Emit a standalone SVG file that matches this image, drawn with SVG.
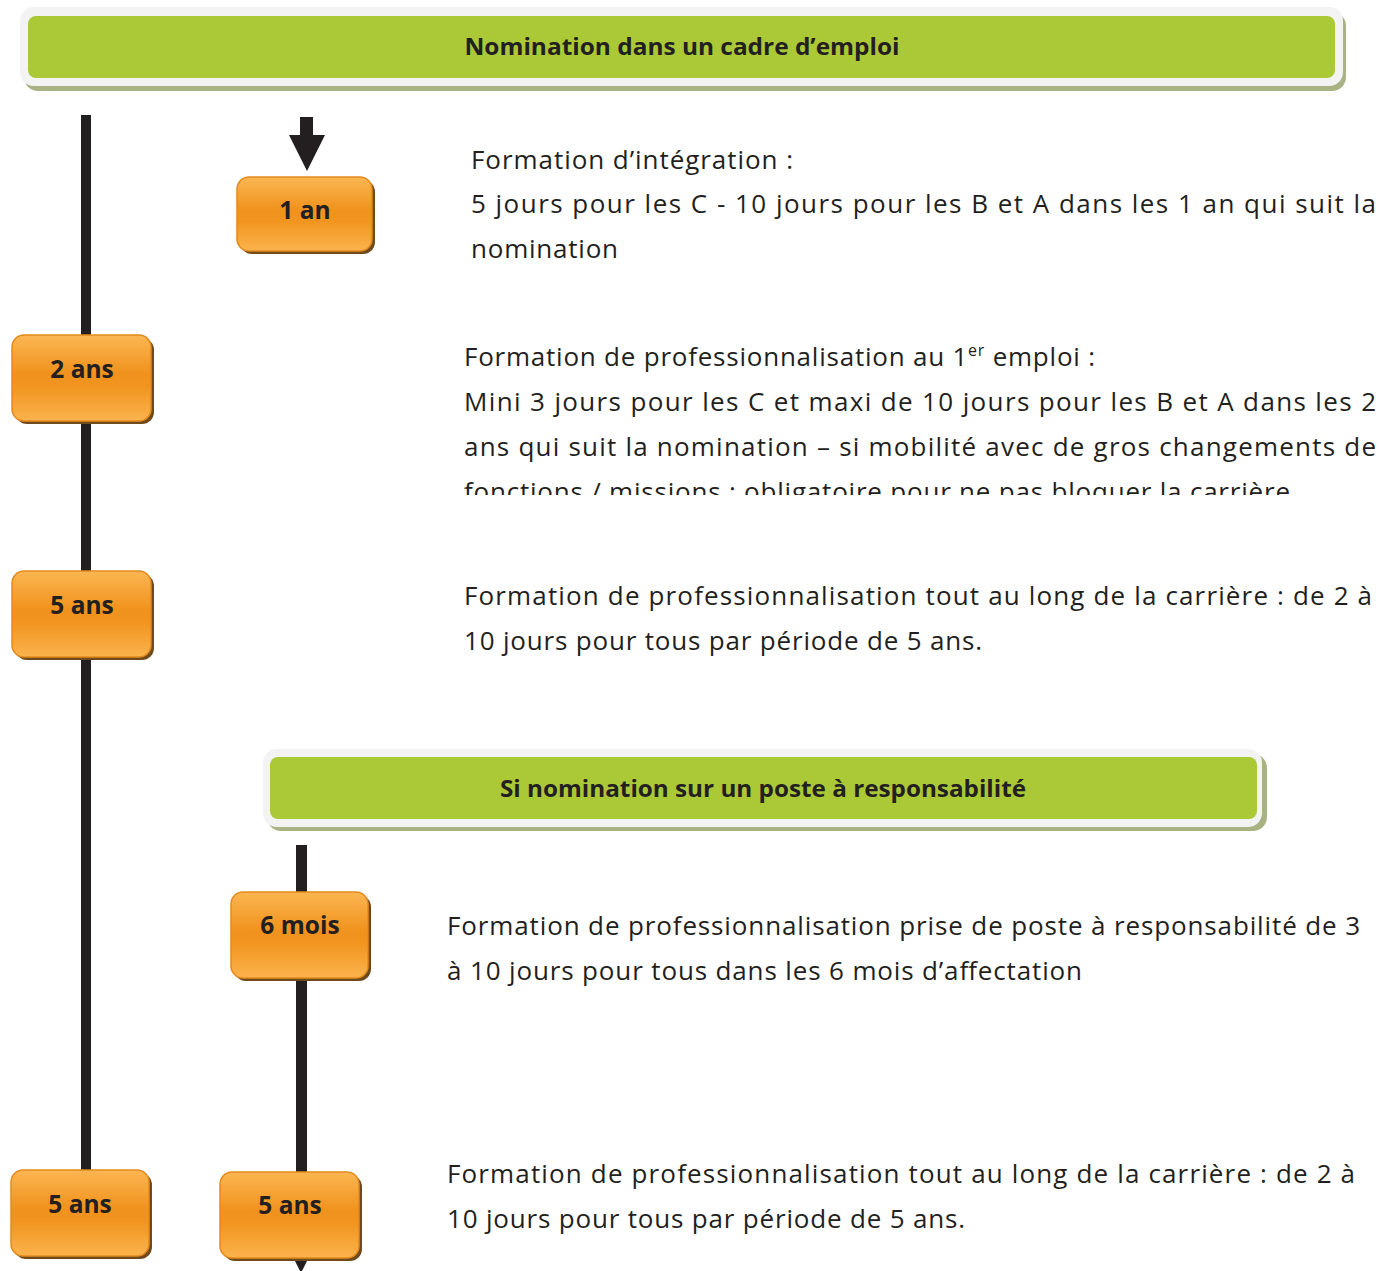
<svg xmlns="http://www.w3.org/2000/svg" width="1381" height="1271" viewBox="0 0 1381 1271">
<defs>
<linearGradient id="og" x1="0" y1="0" x2="0" y2="1">
<stop offset="0" stop-color="#fbb652"/>
<stop offset="0.45" stop-color="#f0921d"/>
<stop offset="0.6" stop-color="#f19520"/>
<stop offset="1" stop-color="#fbb34d"/>
</linearGradient>
<clipPath id="clip2"><rect x="400" y="300" width="981" height="195"/></clipPath>
<style>
.body{font-family:"Open Sans","Noto Sans","Liberation Sans",sans-serif;font-size:26px;fill:#231f20}
.lbl{font-family:"Open Sans","Noto Sans","Liberation Sans",sans-serif;font-size:24.5px;font-weight:700;fill:#231f20;text-anchor:middle}
.ban{font-family:"Open Sans","Noto Sans","Liberation Sans",sans-serif;font-size:23px;font-weight:700;fill:#231f20;text-anchor:middle}
.box{fill:url(#og);stroke:#e48a1c;stroke-width:1.5}
.shd{fill:#6e4a1c}
.bout{fill:#f3f3f3}
.bshd{fill:#a9b283}
.bin{fill:#abc837}
.line{fill:#231f20}
</style>
</defs>

<g id="connectors">
<rect class="line" x="81" y="115" width="10" height="1060"/>
<rect class="line" x="296" y="845" width="11" height="395"/>
<polygon class="line" points="283,1237 319,1237 301,1273"/>
<rect class="line" x="300" y="117" width="13" height="20"/>
<polygon class="line" points="289,135 325,135 307,171"/>
</g>

<g id="banner1">
<rect class="bshd" x="24" y="12" width="1322" height="79" rx="14"/>
<rect class="bout" x="20" y="7" width="1323" height="79" rx="14"/>
<rect class="bin" x="28" y="16" width="1307" height="62" rx="8"/>
<text class="ban" x="682" y="55" textLength="435" lengthAdjust="spacingAndGlyphs">Nomination dans un cadre d’emploi</text>
</g>

<g id="banner2">
<rect class="bshd" x="267" y="754" width="1000" height="77" rx="14"/>
<rect class="bout" x="263" y="749" width="999" height="78" rx="14"/>
<rect class="bin" x="270" y="757" width="987" height="62" rx="8"/>
<text class="ban" x="763" y="797" textLength="526" lengthAdjust="spacingAndGlyphs">Si nomination sur un poste à responsabilité</text>
</g>

<g id="n1an">
<rect class="shd" x="240" y="180" width="135" height="74" rx="12"/>
<rect class="box" x="237" y="177" width="135" height="74" rx="12"/>
<text class="lbl" x="305" y="219">1 an</text>
</g>

<g id="n2ans">
<rect class="shd" x="15" y="338" width="139" height="86" rx="12"/>
<rect class="box" x="12" y="335" width="139" height="86" rx="12"/>
<text class="lbl" x="82" y="378">2 ans</text>
</g>

<g id="n5ans1">
<rect class="shd" x="15" y="574" width="139" height="86" rx="12"/>
<rect class="box" x="12" y="571" width="139" height="86" rx="12"/>
<text class="lbl" x="82" y="614">5 ans</text>
</g>

<g id="n6mois">
<rect class="shd" x="234" y="895" width="137" height="86" rx="12"/>
<rect class="box" x="231" y="892" width="137" height="86" rx="12"/>
<text class="lbl" x="300" y="934">6 mois</text>
</g>

<g id="n5ans2">
<rect class="shd" x="14" y="1173" width="138" height="86" rx="12"/>
<rect class="box" x="11" y="1170" width="138" height="86" rx="12"/>
<text class="lbl" x="80" y="1213">5 ans</text>
</g>

<g id="n5ans3">
<rect class="shd" x="223" y="1175" width="139" height="86" rx="12"/>
<rect class="box" x="220" y="1172" width="139" height="86" rx="12"/>
<text class="lbl" x="290" y="1214">5 ans</text>
</g>

<g id="text1">
<text class="body" x="471" y="169" textLength="322" lengthAdjust="spacing">Formation d’intégration :</text>
<text class="body" x="471" y="213" textLength="905" lengthAdjust="spacing">5 jours pour les C - 10 jours pour les B et A dans les 1 an qui suit la</text>
<text class="body" x="471" y="258" textLength="147" lengthAdjust="spacing">nomination</text>
</g>

<g id="text2">
<text class="body" x="464" y="366" textLength="631" lengthAdjust="spacing">Formation de professionnalisation au 1<tspan font-size="16" dy="-10">er</tspan><tspan dy="10"> emploi :</tspan></text>
<text class="body" x="464" y="411" textLength="912" lengthAdjust="spacing">Mini 3 jours pour les C et maxi de 10 jours pour les B et A dans les 2</text>
<text class="body" x="464" y="456" textLength="912" lengthAdjust="spacing">ans qui suit la nomination – si mobilité avec de gros changements de</text>
<g clip-path="url(#clip2)">
<text class="body" x="464" y="501" textLength="826" lengthAdjust="spacing">fonctions / missions : obligatoire pour ne pas bloquer la carrière</text>
</g>
</g>

<g id="text3">
<text class="body" x="464" y="605" textLength="908" lengthAdjust="spacing">Formation de professionnalisation tout au long de la carrière : de 2 à</text>
<text class="body" x="464" y="650" textLength="518" lengthAdjust="spacing">10 jours pour tous par période de 5 ans.</text>
</g>

<g id="text4">
<text class="body" x="447" y="935" textLength="913" lengthAdjust="spacing">Formation de professionnalisation prise de poste à responsabilité de 3</text>
<text class="body" x="447" y="980" textLength="635" lengthAdjust="spacing">à 10 jours pour tous dans les 6 mois d’affectation</text>
</g>

<g id="text5">
<text class="body" x="447" y="1183" textLength="908" lengthAdjust="spacing">Formation de professionnalisation tout au long de la carrière : de 2 à</text>
<text class="body" x="447" y="1228" textLength="518" lengthAdjust="spacing">10 jours pour tous par période de 5 ans.</text>
</g>
</svg>
